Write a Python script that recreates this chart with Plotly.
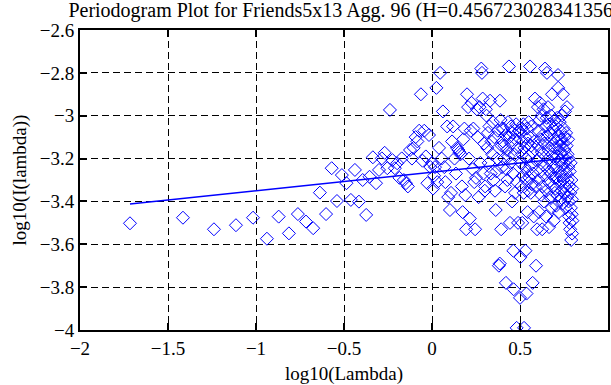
import plotly.graph_objects as go

# log10 of Fourier frequency (x) and log10 of periodogram value (y)
log_lambda = [
    -1.716, -1.415, -1.239, -1.114, -1.017, -0.938, -0.871, -0.813, -0.762, -0.716,
    -0.675, -0.637, -0.602, -0.570, -0.540, -0.512, -0.486, -0.461, -0.438, -0.415,
    -0.394, -0.374, -0.355, -0.336, -0.318, -0.301, -0.285, -0.269, -0.254, -0.239,
    -0.225, -0.211, -0.198, -0.185, -0.172, -0.160, -0.148, -0.137, -0.125, -0.114,
    -0.104, -0.093, -0.083, -0.073, -0.063, -0.054, -0.044, -0.035, -0.026, -0.017,
    -0.009,
    0.000, 0.006, 0.012, 0.017, 0.025, 0.030, 0.040, 0.046, 0.055, 0.062, 0.070, 0.076, 0.086, 0.092,
    0.102, 0.108, 0.114, 0.120, 0.128, 0.136, 0.142, 0.150, 0.156, 0.162, 0.170, 0.174, 0.178, 0.184,
    0.189, 0.194, 0.199,
    0.205, 0.210, 0.215, 0.220, 0.225, 0.230, 0.235, 0.240, 0.245, 0.250, 0.255, 0.260, 0.265, 0.270,
    0.275, 0.280, 0.284, 0.288, 0.292, 0.296, 0.300,
    0.302, 0.306, 0.310, 0.314, 0.318, 0.322, 0.326, 0.330, 0.334, 0.338, 0.342, 0.346, 0.350, 0.354,
    0.358, 0.362, 0.366, 0.370, 0.374, 0.380, 0.385, 0.386, 0.390, 0.393, 0.396, 0.398, 0.400,
    0.403, 0.406, 0.409, 0.412, 0.415, 0.418, 0.420, 0.423, 0.426, 0.428, 0.432, 0.435, 0.437, 0.440,
    0.443, 0.446, 0.449, 0.452, 0.455, 0.458, 0.460, 0.462, 0.464, 0.467, 0.470, 0.472, 0.475, 0.478,
    0.481, 0.483, 0.486, 0.489, 0.495,
    0.500, 0.501, 0.503, 0.505, 0.507, 0.509, 0.511, 0.513, 0.515, 0.517, 0.519, 0.521, 0.523, 0.525,
    0.527, 0.529, 0.531, 0.533, 0.535, 0.537, 0.539, 0.541, 0.543, 0.545, 0.547, 0.549, 0.551, 0.553,
    0.555, 0.557, 0.559, 0.561, 0.563, 0.565, 0.567, 0.570, 0.572, 0.575, 0.578, 0.582, 0.585, 0.588,
    0.591, 0.594, 0.597,
    0.600, 0.602, 0.604, 0.606, 0.608, 0.610, 0.612, 0.614, 0.616, 0.618, 0.620, 0.622, 0.624, 0.626,
    0.628, 0.630, 0.632, 0.634, 0.636, 0.638, 0.640, 0.642, 0.644, 0.646, 0.648, 0.650, 0.652, 0.653,
    0.655, 0.657, 0.659, 0.661, 0.663, 0.665, 0.667, 0.669, 0.671, 0.673, 0.675, 0.677, 0.679, 0.681,
    0.682, 0.684, 0.686, 0.688, 0.690, 0.692, 0.694, 0.696, 0.697, 0.698, 0.699,
    0.700, 0.702, 0.703, 0.705, 0.706, 0.708, 0.709, 0.711, 0.712, 0.714, 0.716, 0.717, 0.718, 0.720,
    0.721, 0.723, 0.724, 0.726, 0.727, 0.729, 0.730, 0.732, 0.733, 0.735, 0.736, 0.738, 0.739, 0.741,
    0.742, 0.744, 0.745, 0.747, 0.748, 0.750, 0.751, 0.753, 0.754, 0.756, 0.757, 0.759, 0.760, 0.762,
    0.763, 0.765, 0.767, 0.768, 0.770, 0.771, 0.773, 0.774, 0.776, 0.777, 0.779, 0.780, 0.782, 0.783,
    0.785, 0.786, 0.788, 0.789, 0.791, 0.792, 0.794, 0.795, 0.796, 0.797, 0.798,
]

log_periodogram = [
    -3.502, -3.476, -3.530, -3.511, -3.476, -3.574, -3.471, -3.549, -3.459, -3.494,
    -3.525, -3.359, -3.459, -3.245, -3.398, -3.277, -3.315, -3.393, -3.253, -3.401,
    -3.300, -3.463, -3.285, -3.194, -3.315, -3.253, -3.199, -3.173, -3.245, -2.973,
    -3.207, -3.245, -3.222, -3.290, -3.199, -3.300, -3.315, -3.330, -3.160, -3.200,
    -3.150, -3.100, -3.120, -3.070, -2.900, -3.210, -3.070, -3.190, -3.315, -3.090,
    -3.240,
    -3.22, -3.34, -3.28, -3.24, -2.87, -3.31, -3.15, -2.80, -3.20, -2.98, -3.24, -3.31, -3.05, -3.38,
    -3.44, -3.36, -3.12, -3.05, -3.20, -3.27, -3.15, -3.16, -3.17, -3.18, -3.33, -3.45, -3.11, -3.06,
    -3.37, -3.53, -2.90,
    -2.96, -3.20, -3.48, -3.07, -2.94, -3.25, -3.06, -3.31, -3.53, -3.29, -2.97, -3.10, -3.38, -2.96,
    -3.22, -2.78, -2.80, -2.92, -3.27, -3.13, -3.35,
    -3.33, -2.97, -3.00, -3.15, -3.08, -3.22, -3.05, -2.93, -3.27, -3.12, -3.18, -3.03, -3.30, -3.10,
    -3.35, -3.44, -3.26, -3.20, -3.07, -3.70, -3.69, -2.93, -3.02, -3.53, -3.14, -3.24, -3.06,
    -3.12, -3.06, -3.20, -3.14, -3.33, -3.09, -3.78, -3.25, -3.16, -3.30, -3.03, -3.19, -2.77, -3.10,
    -3.50, -3.22, -3.05, -3.13, -3.40, -3.08, -3.27, -3.63, -3.81, -3.18, -3.07, -3.36, -3.11, -3.04,
    -3.99, -3.31, -3.15, -3.50, -3.07,
    -3.85, -3.08, -3.66, -3.22, -3.33, -3.06, -3.18, -3.50, -3.12, -3.28, -3.04, -3.36, -3.99, -3.15,
    -3.24, -3.10, -3.63, -3.30, -3.20, -3.83, -3.06, -3.26, -3.45, -3.13, -3.35, -3.03, -3.19, -3.29,
    -3.10, -2.77, -3.23, -3.36, -3.14, -3.05, -3.32, -3.17, -3.78, -3.27, -3.47, -3.12, -2.92, -3.33,
    -3.70, -3.21, -3.53,
    -3.14, -2.96, -3.30, -3.07, -3.45, -3.20, -3.02, -2.94, -3.26, -3.11, -3.37, -3.00, -3.17, -3.53,
    -3.33, -3.09, -3.23, -2.97, -3.40, -3.13, -3.28, -2.78, -3.05, -3.19, -3.47, -3.35, -3.01, -2.80,
    -3.10, -3.25, -2.96, -3.16, -3.31, -3.52, -3.04, -3.21, -3.38, -3.08, -3.27, -3.00, -3.14, -3.43,
    -2.90, -3.18, -3.33, -3.06, -3.24, -3.49, -3.11, -3.02, -3.29, -3.36, -3.20,
    -3.15, -3.34, -3.05, -3.24, -3.42, -3.12, -3.29, -3.01, -3.19, -3.37, -2.81, -2.87, -3.09, -3.26,
    -3.45, -3.14, -3.31, -3.03, -3.21, -3.39, -3.07, -3.17, -3.28, -3.11, -3.35, -3.00, -3.23, -3.13,
    -3.41, -2.90, -3.19, -3.30, -3.06, -3.25, -3.36, -3.10, -3.16, -2.98, -3.33, -3.21, -3.43, -3.08,
    -3.27, -3.14, -2.96, -3.38, -3.18, -3.30, -3.11, -3.24, -3.40, -3.20, -3.47, -3.33, -3.50, -3.26,
    -3.53, -3.36, -3.22, -3.43, -3.58, -3.30, -3.46, -3.39, -3.55, -3.34, -3.49,
]

# least-squares fit line end points
fit_x = [-1.716, 0.798]
fit_y = [-3.412, -3.195]

title_text = "Periodogram Plot for Friends5x13 Agg. 96 (H=0.456723028341356)"
x_ticks = [-2, -1.5, -1, -0.5, 0, 0.5, 1]
y_ticks = [-4, -3.8, -3.6, -3.4, -3.2, -3, -2.8, -2.6]

FONT = "Liberation Serif, Times New Roman, serif"
BLUE = "#0000ff"

fig = go.Figure()
fig.add_trace(go.Scatter(
    x=log_lambda, y=log_periodogram, mode="markers",
    marker=dict(symbol="diamond-open", size=10, color=BLUE, line=dict(width=1, color=BLUE)),
    showlegend=False, hoverinfo="skip",
))
fig.add_trace(go.Scatter(
    x=fit_x, y=fit_y, mode="lines",
    line=dict(color=BLUE, width=1.5),
    showlegend=False, hoverinfo="skip",
))

axis_common = dict(
    showline=True, linecolor="black", linewidth=2, mirror="ticks",
    ticks="inside", ticklen=7, tickwidth=1.5, tickcolor="black",
    showgrid=True, gridcolor="black", gridwidth=1, griddash="7px,4px",
    zeroline=False, tickfont=dict(family=FONT, size=19, color="black"),
)

fig.update_layout(
    width=611, height=385,
    margin=dict(l=80, r=3, t=30, b=55, autoexpand=False),
    paper_bgcolor="white", plot_bgcolor="white",
    font=dict(family=FONT, size=19, color="black"),
    title=dict(text=title_text, x=0.5, xref="paper", xanchor="center",
               y=1 - 10 / 385, yref="container", yanchor="middle",
               font=dict(family=FONT, size=20, color="black")),
    xaxis=dict(range=[-2, 1], tickvals=x_ticks,
               title=dict(text="log10(Lambda)", standoff=9, font=dict(family=FONT, size=19)),
               **axis_common),
    yaxis=dict(range=[-4, -2.6], tickvals=y_ticks,
               title=dict(text="log10(I(lambda))", standoff=8, font=dict(family=FONT, size=19)),
               **axis_common),
)

fig.write_html(
    "out.html",
    config={"displayModeBar": False},
    post_script="document.body.style.margin='0';document.body.style.overflow='hidden';",
)
